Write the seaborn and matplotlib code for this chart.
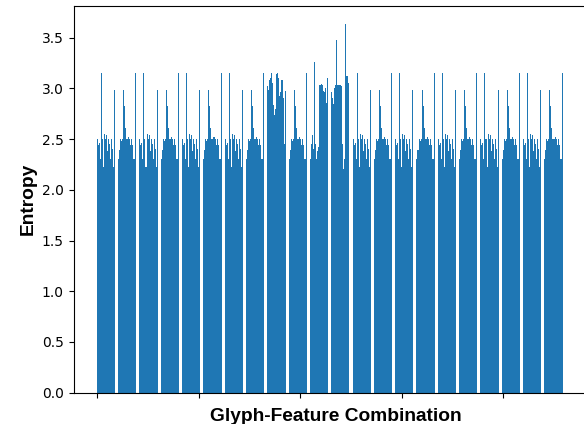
import matplotlib
matplotlib.use("Agg")
import matplotlib.pyplot as plt
import pandas as pd
import seaborn as sns

plt.rcParams['font.family'] = ['DejaVu Sans']

# Entropy values per glyph group (18 feature combinations each)
g00 = [2.50, 2.44, 2.46, 2.30, 3.15, 2.50, 2.22, 2.55, 2.50, 2.54, 2.38, 2.50, 2.45, 2.30, 2.50, 2.40, 2.22, 2.98]
g01 = [2.30, 2.39, 2.50, 2.48, 2.50, 2.98, 2.83, 2.61, 2.50, 2.50, 2.52, 2.50, 2.44, 2.50, 2.44, 2.30, 2.30, 3.15]
g02 = [2.50, 2.44, 2.46, 2.30, 3.15, 2.50, 2.22, 2.55, 2.50, 2.54, 2.38, 2.50, 2.45, 2.30, 2.50, 2.40, 2.22, 2.98]
g03 = [2.30, 2.39, 2.50, 2.48, 2.50, 2.98, 2.83, 2.61, 2.50, 2.50, 2.52, 2.50, 2.44, 2.50, 2.44, 2.30, 2.30, 3.15]
g04 = [2.50, 2.44, 2.46, 2.30, 3.15, 2.50, 2.22, 2.55, 2.50, 2.54, 2.38, 2.50, 2.45, 2.30, 2.50, 2.40, 2.22, 2.98]
g05 = [2.30, 2.39, 2.50, 2.48, 2.50, 2.98, 2.83, 2.61, 2.50, 2.50, 2.52, 2.50, 2.44, 2.50, 2.44, 2.30, 2.30, 3.15]
g06 = [2.50, 2.44, 2.46, 2.30, 3.15, 2.50, 2.22, 2.55, 2.50, 2.54, 2.38, 2.50, 2.45, 2.30, 2.50, 2.40, 2.22, 2.98]
g07 = [2.30, 2.39, 2.50, 2.48, 2.50, 2.98, 2.83, 2.61, 2.50, 2.50, 2.52, 2.50, 2.44, 2.50, 2.44, 2.30, 2.30, 3.15]
g08 = [3.02, 2.98, 3.08, 3.10, 3.15, 3.05, 2.84, 2.74, 2.80, 3.14, 3.15, 3.10, 2.92, 2.96, 3.08, 2.90, 2.45, 2.97]
g09 = [2.30, 2.39, 2.50, 2.48, 2.50, 2.98, 2.83, 2.61, 2.50, 2.50, 2.52, 2.50, 2.44, 2.50, 2.44, 2.30, 2.30, 3.15]
g10 = [2.30, 2.45, 2.54, 2.40, 3.26, 2.45, 2.30, 2.38, 2.42, 3.03, 3.03, 3.04, 3.03, 2.97, 2.96, 3.00, 2.86, 3.10]
g11 = [2.96, 2.90, 2.85, 3.00, 3.03, 3.48, 3.03, 3.03, 3.03, 3.03, 3.02, 2.45, 2.20, 2.30, 3.63, 3.12, 3.12, 3.05]
g12 = [2.50, 2.44, 2.46, 2.30, 3.15, 2.50, 2.22, 2.55, 2.50, 2.54, 2.38, 2.50, 2.45, 2.30, 2.50, 2.40, 2.22, 2.98]
g13 = [2.30, 2.39, 2.50, 2.48, 2.50, 2.98, 2.83, 2.61, 2.50, 2.50, 2.52, 2.50, 2.44, 2.50, 2.44, 2.30, 2.30, 3.15]
g14 = [2.50, 2.44, 2.46, 2.30, 3.15, 2.50, 2.22, 2.55, 2.50, 2.54, 2.38, 2.50, 2.45, 2.30, 2.50, 2.40, 2.22, 2.98]
g15 = [2.30, 2.39, 2.50, 2.48, 2.50, 2.98, 2.83, 2.61, 2.50, 2.50, 2.52, 2.50, 2.44, 2.50, 2.44, 2.30, 2.30, 3.15]
g16 = [2.50, 2.44, 2.46, 2.30, 3.15, 2.50, 2.22, 2.55, 2.50, 2.54, 2.38, 2.50, 2.45, 2.30, 2.50, 2.40, 2.22, 2.98]
g17 = [2.30, 2.39, 2.50, 2.48, 2.50, 2.98, 2.83, 2.61, 2.50, 2.50, 2.52, 2.50, 2.44, 2.50, 2.44, 2.30, 2.30, 3.15]
g18 = [2.50, 2.44, 2.46, 2.30, 3.15, 2.50, 2.22, 2.55, 2.50, 2.54, 2.38, 2.50, 2.45, 2.30, 2.50, 2.40, 2.22, 2.98]
g19 = [2.30, 2.39, 2.50, 2.48, 2.50, 2.98, 2.83, 2.61, 2.50, 2.50, 2.52, 2.50, 2.44, 2.50, 2.44, 2.30, 2.30, 3.15]
g20 = [2.50, 2.44, 2.46, 2.30, 3.15, 2.50, 2.22, 2.55, 2.50, 2.54, 2.38, 2.50, 2.45, 2.30, 2.50, 2.40, 2.22, 2.98]
g21 = [2.30, 2.39, 2.50, 2.48, 2.50, 2.98, 2.83, 2.61, 2.50, 2.50, 2.52, 2.50, 2.44, 2.50, 2.44, 2.30, 2.30, 3.15]

groups = [g00, g01, g02, g03, g04, g05, g06, g07, g08, g09, g10,
          g11, g12, g13, g14, g15, g16, g17, g18, g19, g20, g21]
GAP = 3  # empty slots between glyph groups

x_ticks = [0, 100, 200, 300, 400]
x_label = "Glyph-Feature Combination"
y_label = "Entropy"

pos, vals = [], []
start = 0
for grp in groups:
    for i, v in enumerate(grp):
        pos.append(start + i)
        vals.append(v)
    start += len(grp) + GAP
df = pd.DataFrame({"combo": pos, "entropy": vals})

fig = plt.figure(figsize=(5.84, 4.24), dpi=100)
ax = fig.add_axes([73.6 / 584, 31.3 / 424, 512.2 / 584, 386.7 / 424])
sns.barplot(data=df, x="combo", y="entropy", native_scale=True, color="#1f77b4",
            saturation=1, errorbar=None, width=1.0, linewidth=0, ax=ax)

lo, hi = min(pos) - 0.4, max(pos) + 0.4
m = 0.05 * (hi - lo)
ax.set_xlim(lo - m, hi + m)
ax.set_ylim(0, max(vals) * 1.05)
ax.set_xticks(x_ticks)
ax.set_xticklabels([])
ax.tick_params(labelsize=10)
ax.set_xlabel(x_label, fontsize=13.8, fontweight='bold', x=0.512, family='Liberation Sans')
ax.set_ylabel(y_label, fontsize=13.8, fontweight='bold', family='Liberation Sans')

fig.savefig("out.png", dpi=100)
